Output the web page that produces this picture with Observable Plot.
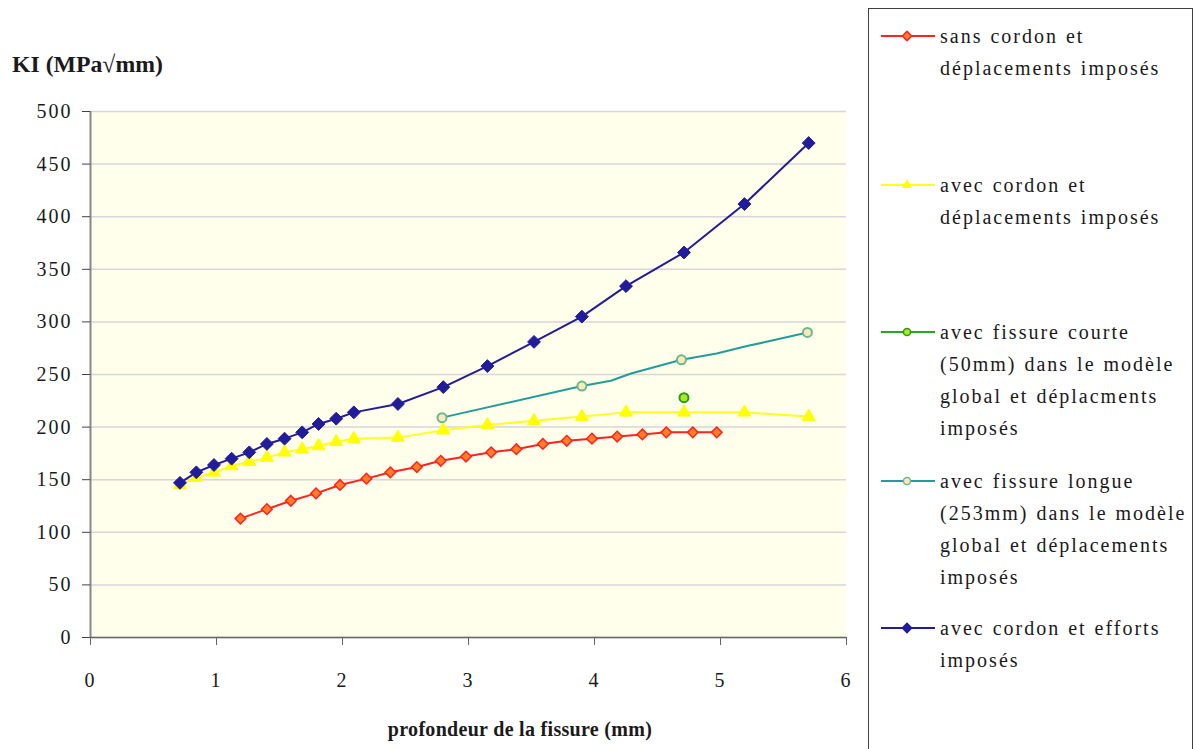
<!DOCTYPE html>
<html>
<head>
<meta charset="utf-8">
<script src="https://cdn.jsdelivr.net/npm/d3@7"></script>
<script src="https://cdn.jsdelivr.net/npm/@observablehq/plot@0.6"></script>
<style>
  body { margin: 0; background: #fff; font-family: 'Liberation Serif'; }
  #wrap { position: relative; width: 1198px; height: 749px; overflow: hidden; font-family: 'Liberation Serif'; color: #1a1a1a; }
  #chart { position: absolute; left: 0; top: 0; }
  .ytitle { position: absolute; left: 12px; top: 52px; font-weight: bold; font-size: 19px; line-height: 1; white-space: nowrap; transform: scale(1.25); transform-origin: 0 0; }
  .xtitle { position: absolute; left: 0; width: 1040px; text-align: center; top: 719px; font-weight: bold; font-size: 20px; line-height: 1; letter-spacing: 0.3px; white-space: nowrap; }
  #legend { position: absolute; left: 868px; top: 8px; width: 325px; height: 780px; border: 1px solid #404040; box-sizing: border-box; background: #fff; }
  .item { position: absolute; left: 0; width: 325px; }
  .item svg { position: absolute; left: 10px; }
  .item .txt { position: absolute; left: 71px; font-size: 20px; line-height: 32px; white-space: nowrap; letter-spacing: 2px; word-spacing: 1px; }
</style>
</head>
<body>
<div id="wrap">
  <div id="chart"></div>
  <div class="ytitle">KI (MPa√mm)</div>
  <div class="xtitle">profondeur de la fissure (mm)</div>
  <div id="legend"></div>
</div>
<script>
// ---- Data ----
// sans cordon et déplacements imposés
const depthSansCordon = [1.19, 1.40, 1.59, 1.79, 1.98, 2.19, 2.38, 2.59, 2.78, 2.98, 3.18, 3.38, 3.59, 3.78, 3.98, 4.18, 4.38, 4.57, 4.78, 4.97];
const kiSansCordon    = [113, 122, 130, 137, 145, 151, 157, 162, 168, 172, 176, 179, 184, 187, 189, 191, 193, 195, 195, 195];
// avec cordon (depths shared by the two "cordon" series)
const depthCordon = [0.71, 0.84, 0.98, 1.12, 1.26, 1.40, 1.54, 1.68, 1.81, 1.95, 2.09, 2.44, 2.80, 3.15, 3.52, 3.90, 4.25, 4.71, 5.19, 5.70];
const kiCordonDepl    = [145, 152, 157, 163, 167, 171, 176, 179, 182, 186, 189, 190, 197, 202, 206, 210, 214, 214, 214, 210];
const kiCordonEfforts = [147, 157, 164, 170, 176, 184, 189, 195, 203, 208, 214, 222, 238, 258, 281, 305, 334, 366, 412, 470];
// avec fissure courte (50mm)
const depthCourte = [4.71];
const kiCourte    = [228];
// avec fissure longue (253mm): line vertices, markers only where flagged
const depthLongue  = [2.79, 3.90, 4.13, 4.29, 4.69, 4.97, 5.21, 5.40, 5.69];
const kiLongue     = [209, 239, 244, 251, 264, 270, 277, 282, 290];
const markerLongue = [true, true, false, false, true, false, false, false, true];

const xTicks = [0, 1, 2, 3, 4, 5, 6];
const yTicks = [0, 50, 100, 150, 200, 250, 300, 350, 400, 450, 500];

const legendLabels = [
  "sans cordon et<br>déplacements imposés",
  "avec cordon et<br>déplacements imposés",
  "avec fissure courte<br>(50mm) dans le modèle<br>global et déplacments<br>imposés",
  "avec fissure longue<br>(253mm) dans le modèle<br>global et déplacements<br>imposés",
  "avec cordon et efforts<br>imposés"
];

// ---- Styles ----
const S = {
  red:    {line: "#FF2222", fill: "#FF7F27", stroke: "#FF2222", symbol: "diamond"},
  yellow: {line: "#FFFF22", fill: "#FFFF00", stroke: "#FFFF00", symbol: "triangle"},
  green:  {line: "#22AA22", fill: "#AEE62A", stroke: "#2A9A1A", symbol: "circle"},
  teal:   {line: "#229C9C", fill: "#FDE7BF", stroke: "#66BB88", symbol: "circle"},
  blue:   {line: "#211C9A", fill: "#211C9A", stroke: "#211C9A", symbol: "diamond"}
};

const zip = (xs, ys) => xs.map((x, i) => ({x, y: ys[i]}));
const red = zip(depthSansCordon, kiSansCordon);
const yellow = zip(depthCordon, kiCordonDepl);
const blue = zip(depthCordon, kiCordonEfforts);
const green = zip(depthCourte, kiCourte);
const teal = zip(depthLongue, kiLongue).map((d, i) => ({...d, m: markerLongue[i]}));

const chart = Plot.plot({
  width: 1198,
  height: 749,
  marginLeft: 90,
  marginRight: 352,
  marginTop: 111,
  marginBottom: 112,
  style: {fontFamily: "'Liberation Serif'", fontSize: "20px", color: "#1a1a1a", background: "transparent"},
  x: {domain: [0, 6]},
  y: {domain: [0, 500]},
  marks: [
    Plot.frame({fill: "#FFFFEB", stroke: null}),
    Plot.gridY(yTicks, {stroke: "#d6d6dc", strokeOpacity: 1, strokeWidth: 1.5}),
    Plot.ruleX([0], {stroke: "#888", strokeWidth: 2}),
    Plot.ruleY([0], {stroke: "#666", strokeWidth: 1.5}),
    Plot.axisX(xTicks, {tickSize: 8, tickPadding: 27, stroke: "#666", label: null, fontSize: 20, tickFormat: d => String(d)}),
    Plot.axisY(yTicks, {tickSize: 8, tickPadding: 10, stroke: "#444", label: null, fontSize: 20, tickFormat: d => String(d)}),
    Plot.line(red, {x: "x", y: "y", stroke: S.red.line, strokeWidth: 2}),
    Plot.line(yellow, {x: "x", y: "y", stroke: S.yellow.line, strokeWidth: 2}),
    Plot.line(teal, {x: "x", y: "y", stroke: S.teal.line, strokeWidth: 2}),
    Plot.line(blue, {x: "x", y: "y", stroke: S.blue.line, strokeWidth: 2}),
    Plot.dot(red, {x: "x", y: "y", symbol: "diamond2", r: 4.8, fill: S.red.fill, stroke: S.red.stroke, strokeWidth: 1.5}),
    Plot.dot(yellow, {x: "x", y: "y", symbol: "triangle", r: 4.8, fill: S.yellow.fill, stroke: S.yellow.stroke, strokeWidth: 1}),
    Plot.dot(green, {x: "x", y: "y", symbol: "circle", r: 4.5, fill: S.green.fill, stroke: S.green.stroke, strokeWidth: 2}),
    Plot.dot(teal.filter(d => d.m), {x: "x", y: "y", symbol: "circle", r: 4.5, fill: S.teal.fill, stroke: S.teal.stroke, strokeWidth: 2}),
    Plot.dot(blue, {x: "x", y: "y", symbol: "diamond2", r: 5.8, fill: S.blue.fill, stroke: S.blue.stroke, strokeWidth: 1})
  ]
});
document.getElementById("chart").appendChild(chart);

// Slightly widen tick labels (Excel-style spacing) without changing the font size
d3.select(chart).selectAll('g[aria-label="x-axis tick label"] text, g[aria-label="y-axis tick label"] text')
  .style("letter-spacing", "2px");

// ---- Legend ----
const legendCenters = [36, 185, 332, 481, 628];
const legendStyles = [S.red, S.yellow, S.green, S.teal, S.blue];
const legend = d3.select("#legend");
legendStyles.forEach((st, i) => {
  const cy = legendCenters[i] - 9; // relative to legend box content top
  const item = legend.append("div").attr("class", "item").style("top", "0px");
  const svg = item.append("svg").attr("width", 58).attr("height", 20).style("top", (cy - 10) + "px");
  svg.append("line").attr("x1", 2).attr("x2", 56).attr("y1", 10).attr("y2", 10).attr("stroke", st.line).attr("stroke-width", 2);
  const symType = st.symbol === "diamond" ? d3.symbolDiamond2 : st.symbol === "triangle" ? d3.symbolTriangle2 : d3.symbolCircle;
  const size = st.symbol === "circle" ? 40 : 55;
  svg.append("path").attr("d", d3.symbol(symType, size)()).attr("transform", "translate(28,10)")
    .attr("fill", st.fill).attr("stroke", st.stroke).attr("stroke-width", st.symbol === "triangle" ? 1 : 1.5);
  item.append("div").attr("class", "txt").style("top", (cy - 16) + "px").html(legendLabels[i]);
});
</script>
</body>
</html>
